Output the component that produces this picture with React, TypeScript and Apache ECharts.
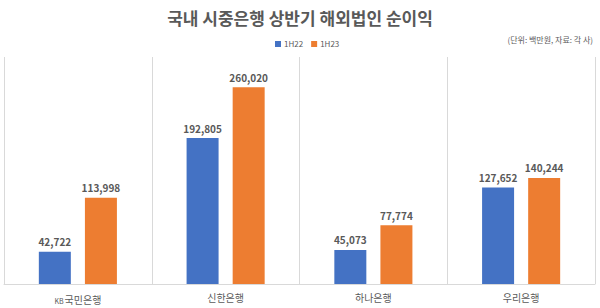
import React, { useEffect, useRef } from "react";
import * as echarts from "echarts";

const categories = ["KB국민은행", "신한은행", "하나은행", "우리은행"];
const seriesNames = ["1H22", "1H23"];
const values1H22 = [42722, 192805, 45073, 127652];
const values1H23 = [113998, 260020, 77774, 140244];
const titleText = "국내 시중은행 상반기 해외법인 순이익";
const noteText = "(단위: 백만원, 자료: 각 사)";

export default function App() {
  const ref = useRef<HTMLDivElement>(null);
  useEffect(() => {
    const chart = echarts.init(ref.current!, null, { renderer: "svg" });
    const font = "'Malgun Gothic', 'Noto Sans CJK KR', sans-serif";
    const labelCfg = {
      show: true,
      position: "top",
      distance: 5,
      color: "#595959",
      fontWeight: "bold",
      fontSize: 10,
      fontFamily: font,
      formatter: (p: any) => Number(p.value).toLocaleString("en-US"),
    };
    chart.setOption({
      animation: false,
      backgroundColor: "#fff",
      textStyle: { fontFamily: font },
      title: {
        text: titleText,
        left: "center",
        top: 4,
        textStyle: { fontSize: 17, fontWeight: "bold", color: "#595959", fontFamily: font },
      },
      graphic: [
        {
          type: "text",
          right: 7,
          top: 35,
          style: { text: noteText, fontSize: 8, fill: "#595959", fontFamily: font },
        },
      ],
      legend: {
        data: seriesNames,
        left: 270,
        top: 35,
        itemWidth: 6,
        itemHeight: 6,
        itemGap: 8,
        icon: "rect",
        textStyle: { fontSize: 8, color: "#595959", fontFamily: font, padding: [0, 0, 0, -2] },
      },
      grid: { left: 4, right: 5, top: 57, bottom: 24, containLabel: false },
      xAxis: {
        type: "category",
        data: categories,
        axisLine: { show: true, lineStyle: { color: "#d9d9d9" } },
        axisTick: { show: false },
        splitLine: { show: true, lineStyle: { color: "#d9d9d9" } },
        axisLabel: {
          color: "#595959",
          fontSize: 10,
          margin: 8,
          fontFamily: font,
          formatter: (v: string) =>
            v.startsWith("KB") ? "{s|KB}{n|" + v.slice(2) + "}" : v,
          rich: {
            s: { fontSize: 7, color: "#595959", fontFamily: font, verticalAlign: "bottom", lineHeight: 12, padding: [0, 1, 0, 0] },
            n: { fontSize: 10, color: "#595959", fontFamily: font, verticalAlign: "bottom", lineHeight: 12 },
          },
        },
      },
      yAxis: {
        type: "value",
        min: 0,
        max: 300000,
        show: false,
        splitLine: { show: false },
      },
      series: [
        {
          name: seriesNames[0],
          type: "bar",
          data: values1H22,
          barWidth: 32,
          barGap: "44%",
          itemStyle: { color: "#4472C4" },
          label: labelCfg,
        },
        {
          name: seriesNames[1],
          type: "bar",
          data: values1H23,
          barWidth: 32,
          barGap: "44%",
          itemStyle: { color: "#ED7D31" },
          label: labelCfg,
        },
      ],
    });
    return () => chart.dispose();
  }, []);
  return <div ref={ref} style={{ width: 600, height: 308, position: "absolute", left: 0, top: 0 }} />;
}
